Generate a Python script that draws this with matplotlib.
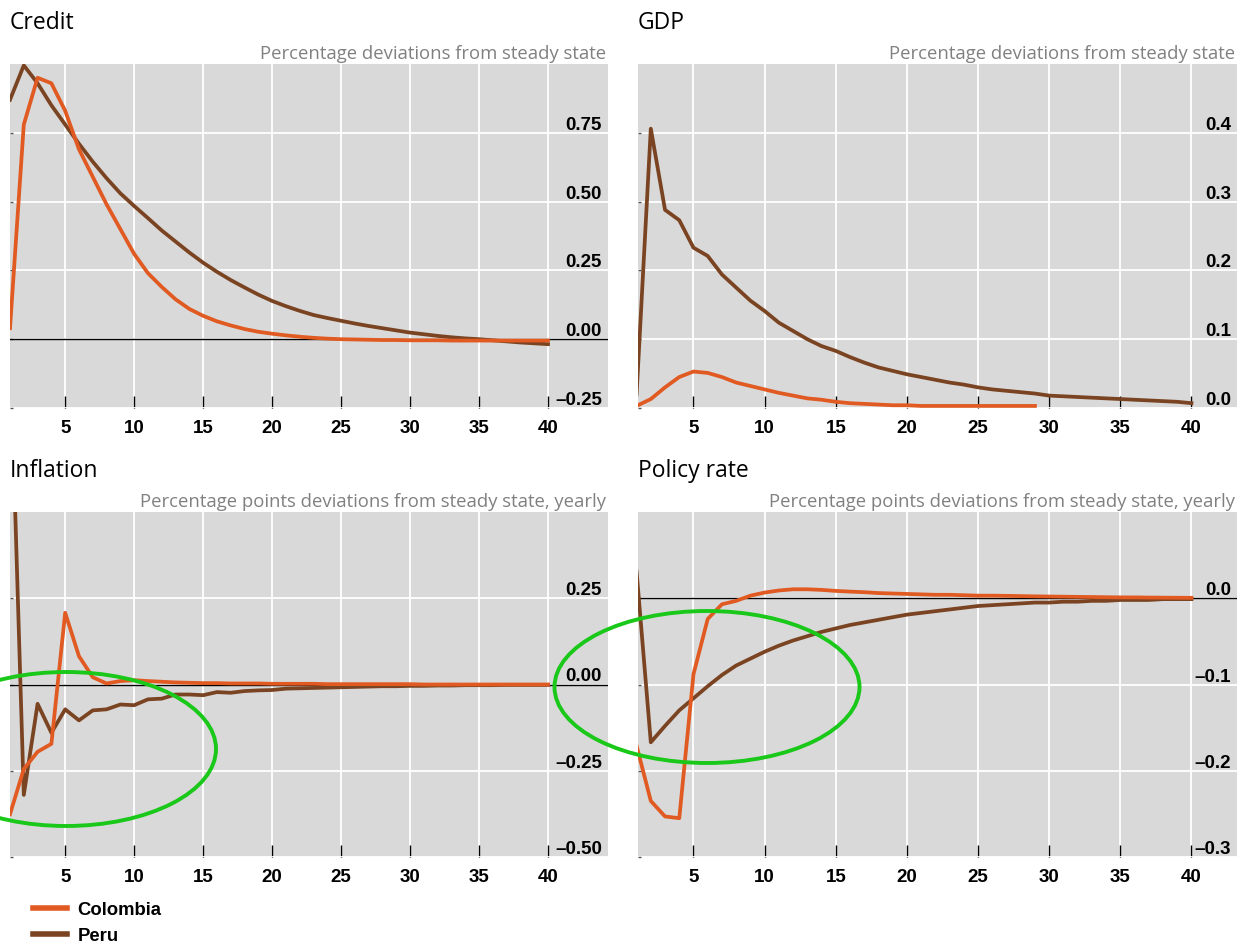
import numpy as np
import matplotlib
matplotlib.use('Agg')
import matplotlib.pyplot as plt
from matplotlib.patches import Ellipse
from matplotlib.lines import Line2D

# Impulse responses, quarters 1..40
periods = list(range(1, 41))

credit_colombia = [0.04, 0.78, 0.95, 0.93, 0.83, 0.69, 0.59, 0.49, 0.40, 0.31,
                   0.24, 0.19, 0.145, 0.11, 0.085, 0.065, 0.05, 0.037, 0.027, 0.02,
                   0.014, 0.009, 0.005, 0.002, 0.0, -0.001, -0.002, -0.003, -0.003, -0.004,
                   -0.004, -0.004, -0.005, -0.005, -0.005, -0.005, -0.005, -0.005, -0.005, -0.005]
credit_peru = [0.87, 0.995, 0.93, 0.85, 0.78, 0.71, 0.645, 0.585, 0.53, 0.484,
               0.44, 0.395, 0.355, 0.315, 0.278, 0.245, 0.215, 0.188, 0.162, 0.139,
               0.12, 0.103, 0.088, 0.077, 0.067, 0.057, 0.048, 0.04, 0.032, 0.024,
               0.018, 0.012, 0.007, 0.003, 0.0, -0.004, -0.008, -0.012, -0.015, -0.018]

gdp_colombia = [0.003, 0.013, 0.03, 0.045, 0.053, 0.051, 0.045, 0.037, 0.032, 0.027,
                0.022, 0.018, 0.014, 0.012, 0.009, 0.007, 0.006, 0.005, 0.004, 0.004,
                0.003, 0.003, 0.003, 0.003, 0.003, 0.003, 0.003, 0.003, 0.003]
gdp_peru = [0.02, 0.406, 0.288, 0.273, 0.233, 0.221, 0.194, 0.175, 0.156, 0.141,
            0.124, 0.112, 0.100, 0.090, 0.083, 0.074, 0.066, 0.059, 0.054, 0.049,
            0.045, 0.041, 0.037, 0.034, 0.030, 0.027, 0.025, 0.023, 0.021, 0.018,
            0.017, 0.016, 0.015, 0.014, 0.013, 0.012, 0.011, 0.010, 0.009, 0.007]

inflation_colombia = [-0.376, -0.245, -0.195, -0.172, 0.208, 0.082, 0.021, 0.003, 0.01, 0.0125,
                      0.01, 0.008, 0.006, 0.005, 0.004, 0.004, 0.003, 0.003, 0.003, 0.002,
                      0.002, 0.002, 0.002, 0.001, 0.001, 0.001, 0.001, 0.001, 0.001, 0.001,
                      0.0, 0.0, 0.0, 0.0, 0.0, 0.0, 0.0, 0.0, 0.0, 0.0]
inflation_peru = [1.0, -0.32, -0.056, -0.14, -0.072, -0.104, -0.075, -0.072, -0.058, -0.06,
                  -0.043, -0.041, -0.029, -0.029, -0.031, -0.022, -0.024, -0.019, -0.017, -0.016,
                  -0.012, -0.011, -0.010, -0.009, -0.008, -0.007, -0.006, -0.005, -0.005, -0.004,
                  -0.004, -0.003, -0.003, -0.002, -0.002, -0.002, -0.001, -0.001, -0.001, -0.001]

policy_colombia = [-0.171, -0.235, -0.253, -0.255, -0.088, -0.024, -0.007, -0.003, 0.003, 0.0066,
                   0.009, 0.0104, 0.0104, 0.0097, 0.0085, 0.0077, 0.007, 0.006, 0.0055, 0.005,
                   0.0045, 0.004, 0.004, 0.0035, 0.003, 0.003, 0.0028, 0.0025, 0.0022, 0.002,
                   0.0018, 0.0016, 0.0014, 0.0012, 0.001, 0.001, 0.0008, 0.0007, 0.0006, 0.0005]
policy_peru = [0.031, -0.167, -0.148, -0.13, -0.116, -0.102, -0.089, -0.078, -0.07, -0.062,
               -0.055, -0.049, -0.044, -0.039, -0.035, -0.031, -0.028, -0.025, -0.022, -0.019,
               -0.017, -0.015, -0.013, -0.011, -0.009, -0.008, -0.007, -0.006, -0.005, -0.005,
               -0.004, -0.004, -0.003, -0.003, -0.002, -0.002, -0.002, -0.001, -0.001, -0.001]

x_ticks = [5, 10, 15, 20, 25, 30, 35, 40]

credit_yticks = [-0.25, 0.0, 0.25, 0.5, 0.75]
credit_ylabels = ['\u20130.25', '0.00', '0.25', '0.50', '0.75']
gdp_yticks = [0.0, 0.1, 0.2, 0.3, 0.4]
gdp_ylabels = ['0.0', '0.1', '0.2', '0.3', '0.4']
infl_yticks = [-0.5, -0.25, 0.0, 0.25]
infl_ylabels = ['\u20130.50', '\u20130.25', '0.00', '0.25']
policy_yticks = [-0.3, -0.2, -0.1, 0.0]
policy_ylabels = ['\u20130.3', '\u20130.2', '\u20130.1', '0.0']

ORANGE = '#e05a22'
BROWN = '#7a4422'
GREEN = '#19c819'

W, H = 1242, 945
fig = plt.figure(figsize=(W / 100, H / 100), dpi=100)


def panel(left, right, top, bottom, xlim, ylim, title, subtitle,
          col, peru, yticks, ylabels, zero_line=True):
    width = right - left
    ax = fig.add_axes([left / W, 1 - bottom / H, width / W, (bottom - top) / H])
    ax.set_facecolor('#d9d9d9')
    for s in ax.spines.values():
        s.set_visible(False)
    ax.set_xlim(*xlim)
    ax.set_ylim(*ylim)
    ax.set_xticks(x_ticks)
    ax.set_xticklabels([str(t) for t in x_ticks], fontfamily='Liberation Sans',
                       fontweight='bold', fontsize=13.5)
    ax.tick_params(axis='x', direction='in', length=9, width=1, color='black', pad=8)
    ax.set_yticks(yticks)
    ax.tick_params(axis='y', direction='in', length=2, width=1, color='#555555',
                   labelleft=False)
    ax.grid(True, color='white', lw=1.3)
    ax.set_axisbelow(True)
    if zero_line:
        ax.axhline(0, color='black', lw=1.0, zorder=2)
    ax.plot(periods[:len(peru)], peru, color=BROWN, lw=2.7, zorder=3)
    ax.plot(periods[:len(col)], col, color=ORANGE, lw=2.7, zorder=4)
    for v, lab in zip(yticks, ylabels):
        ax.text(1 - 6 / width, v, lab, transform=ax.get_yaxis_transform(), ha='right',
                va='bottom', fontfamily='Liberation Sans', fontweight='bold', fontsize=13.5,
                zorder=5)
    fig.text(left / W, 1 - (top - 36) / H, title,
             fontfamily='Open Sans', fontsize=16.5, ha='left', va='baseline')
    ax.text(1 - 2 / width, 1 + 2 / (bottom - top), subtitle, transform=ax.transAxes,
            ha='right', va='bottom', fontfamily='Open Sans', fontsize=13.3, color='#808080')
    return ax


panel(10, 608, 65, 409, (1, 44.35), (-0.25, 1.0), 'Credit',
      'Percentage deviations from steady state',
      credit_colombia, credit_peru, credit_yticks, credit_ylabels)
panel(638, 1237, 65, 409, (1.1, 43.2), (0.0, 0.5), 'GDP',
      'Percentage deviations from steady state',
      gdp_colombia, gdp_peru, gdp_yticks, gdp_ylabels, zero_line=False)
panel(10, 608, 513, 858, (1, 44.35), (-0.5, 0.5), 'Inflation',
      'Percentage points deviations from steady state, yearly',
      inflation_colombia, inflation_peru, infl_yticks, infl_ylabels)
panel(638, 1237, 513, 858, (1.1, 43.2), (-0.3, 0.1), 'Policy rate',
      'Percentage points deviations from steady state, yearly',
      policy_colombia, policy_peru, policy_yticks, policy_ylabels)

# green highlight circles drawn over the chart
for cx, cy, ew, eh in [(66, 750, 300, 154), (707, 688, 305, 152)]:
    fig.add_artist(Ellipse((cx / W, 1 - cy / H), ew / W, eh / H, transform=fig.transFigure,
                           fill=False, ec=GREEN, lw=2.8, zorder=10))

handles = [Line2D([], [], color=ORANGE, lw=4), Line2D([], [], color=BROWN, lw=4)]
fig.legend(handles, ['Colombia', 'Peru'], loc='upper left', bbox_to_anchor=(33 / W, 1 - 902 / H),
           frameon=False, borderpad=0, borderaxespad=0, handlelength=1.85, handletextpad=0.55,
           labelspacing=0.5, prop={'family': 'Liberation Sans', 'weight': 'bold', 'size': 13.3})

fig.savefig('out.png', dpi=100)
